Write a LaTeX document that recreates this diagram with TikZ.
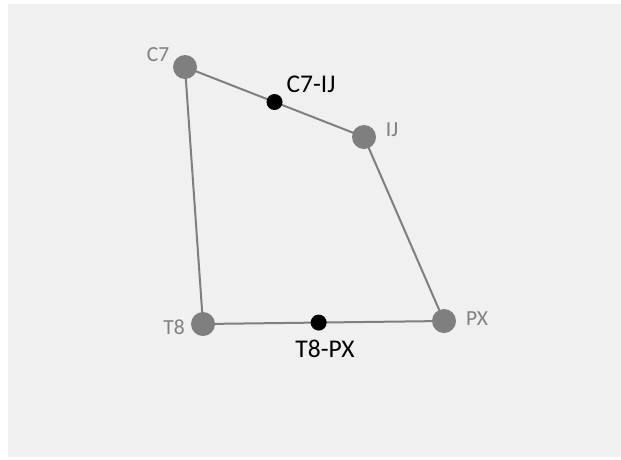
\documentclass[tikz,border=0pt]{standalone}
\usepackage{fontspec}
\setmainfont{Carlito}
\usetikzlibrary{calc}
\definecolor{bgc}{HTML}{F0F0F0}
\definecolor{gnode}{HTML}{7F7F7F}
\definecolor{glabel}{HTML}{808080}
\tikzset{
  vert/.style={circle,fill=gnode,inner sep=0pt,minimum size=24pt},
  mid/.style={circle,fill=black,inner sep=0pt,minimum size=16pt},
  edge/.style={draw=gnode,line width=2pt},
  glab/.style={text=glabel,font=\fontsize{21.5pt}{24pt}\selectfont,inner sep=0pt},
  blab/.style={text=black,font=\fontsize{25.5pt}{28pt}\selectfont,inner sep=0pt}
}
\begin{document}
\begin{tikzpicture}[x=1pt,y=-1pt]
\useasboundingbox (0,0) rectangle (621,459);
\fill[bgc] (8,4) rectangle (621,457);
\coordinate (c7) at (185,67);
\coordinate (ij) at (364,137);
\coordinate (t8) at (203,324);
\coordinate (px) at (444,321);
\draw[edge] (c7) -- (ij) -- (px) -- (t8) -- cycle;
\node[vert] (C7) at (c7) {};
\node[vert] (IJ) at (ij) {};
\node[vert] (T8) at (t8) {};
\node[vert] (PX) at (px) {};
\node[mid] (C7IJ) at ($(c7)!0.5!(ij)$) {};
\node[mid] (T8PX) at ($(t8)!0.48!(px)$) {};
\node[glab] (lC7) at (158,55) {C7};
\node[glab] (lIJ) at (392,130) {IJ};
\node[glab] (lT8) at (174,327) {T8};
\node[glab] (lPX) at (477,319) {PX};
\node[blab] (lC7IJ) at (311,84) {C7-IJ};
\node[blab] (lT8PX) at (325,349) {T8-PX};
\end{tikzpicture}
\end{document}
